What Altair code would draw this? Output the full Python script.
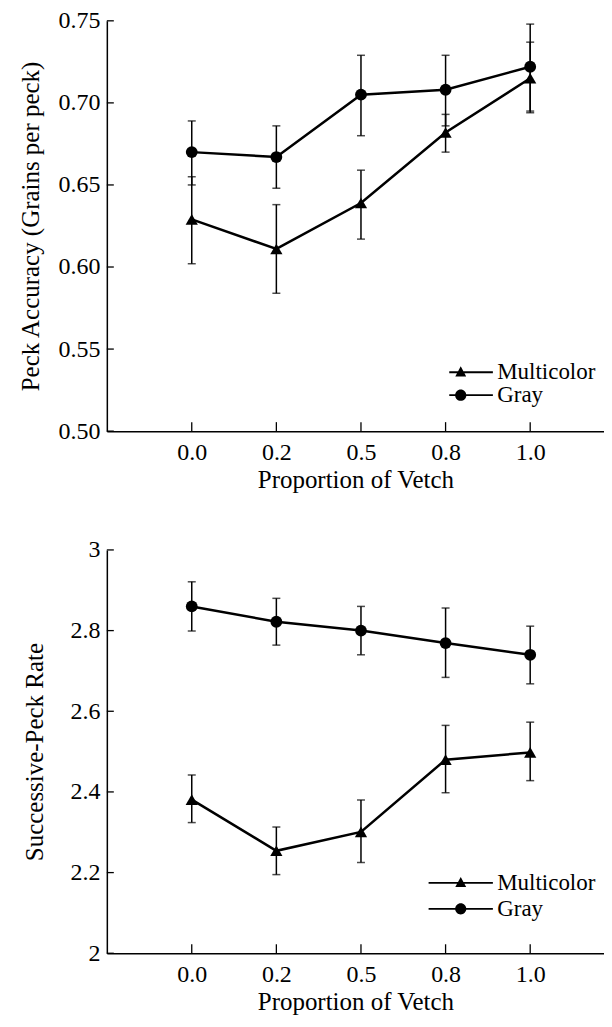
import altair as alt
import pandas as pd

# ---------------- data ----------------
x_labels = ["0.0", "0.2", "0.5", "0.8", "1.0"]
series_names = ["Multicolor", "Gray"]

# Top panel: Peck accuracy (grains per peck)
acc_multi = [0.629, 0.611, 0.639, 0.682, 0.715]
acc_multi_lo = [0.602, 0.584, 0.617, 0.670, 0.694]
acc_multi_hi = [0.655, 0.638, 0.659, 0.693, 0.737]
acc_gray = [0.670, 0.667, 0.705, 0.708, 0.722]
acc_gray_lo = [0.650, 0.648, 0.680, 0.686, 0.695]
acc_gray_hi = [0.689, 0.686, 0.729, 0.729, 0.748]
acc_ticks = [0.50, 0.55, 0.60, 0.65, 0.70, 0.75]

# Bottom panel: successive-peck rate
rate_multi = [2.381, 2.254, 2.301, 2.480, 2.498]
rate_multi_lo = [2.324, 2.195, 2.225, 2.398, 2.428]
rate_multi_hi = [2.442, 2.313, 2.380, 2.565, 2.573]
rate_gray = [2.860, 2.822, 2.800, 2.769, 2.740]
rate_gray_lo = [2.799, 2.764, 2.740, 2.684, 2.668]
rate_gray_hi = [2.921, 2.880, 2.860, 2.856, 2.811]
rate_ticks = [2.0, 2.2, 2.4, 2.6, 2.8, 3.0]

FONT = "Liberation Serif"

# legend symbols: line with marker (custom paths)
LEG_LINE = "M-4.6,-0.13L4.6,-0.13L4.6,0.13L-4.6,0.13Z"
LEG_TRI = LEG_LINE + "M0,-0.85L0.78,0.6L-0.78,0.6Z"
LEG_CIRC = LEG_LINE + "M0.8,0A0.8,0.8,0,1,1,-0.8,0A0.8,0.8,0,1,1,0.8,0Z"


def make_df(m, mlo, mhi, g, glo, ghi):
    rows = []
    for i, xl in enumerate(x_labels):
        rows.append({"x": xl, "series": "Multicolor", "mean": m[i], "lo": mlo[i], "hi": mhi[i]})
        rows.append({"x": xl, "series": "Gray", "mean": g[i], "lo": glo[i], "hi": ghi[i]})
    return pd.DataFrame(rows)


def panel(df, ticks, domain, fmt, ytitle, height, ytitle_pad, leg_opts):
    W = 498
    xs = alt.Scale(type="point", domain=x_labels, padding=0.938, align=0.535)
    ys = alt.Scale(domain=domain, nice=False, zero=False)
    X = alt.X("x:N", scale=xs, sort=x_labels,
              axis=alt.Axis(title="Proportion of Vetch", labelAngle=0, ticks=False,
                            tickSize=0, labelPadding=9, titlePadding=3, grid=False))
    Xn = alt.X("x:N", scale=xs, sort=x_labels)
    Y = alt.Y("mean:Q", scale=ys,
              axis=alt.Axis(title=ytitle, values=ticks, format=fmt, ticks=False,
                            tickSize=0, labelPadding=7, titlePadding=ytitle_pad, grid=False))
    base = alt.Chart(df)
    line = base.mark_line(color="black", strokeWidth=2.5).encode(
        x=X, y=Y, detail="series:N")
    err = base.mark_rule(color="black", strokeWidth=1.5).encode(
        x=Xn, y=alt.Y("lo:Q", scale=ys), y2="hi:Q")
    cap_lo = base.mark_tick(color="black", orient="horizontal", size=8, thickness=1.5).encode(
        x=Xn, y=alt.Y("lo:Q", scale=ys))
    cap_hi = base.mark_tick(color="black", orient="horizontal", size=8, thickness=1.5).encode(
        x=Xn, y=alt.Y("hi:Q", scale=ys))
    pts_m = base.transform_filter(alt.datum.series == "Multicolor").mark_point(
        shape="triangle-up", filled=True, color="black", size=150, opacity=1).encode(
        x=Xn, y=alt.Y("mean:Q", scale=ys))
    pts_g = base.transform_filter(alt.datum.series == "Gray").mark_point(
        shape="circle", filled=True, color="black", size=140, opacity=1).encode(
        x=Xn, y=alt.Y("mean:Q", scale=ys))
    leg = base.mark_point(filled=True, color="black", opacity=0, size=1).encode(
        x=Xn, y=alt.Y("mean:Q", scale=ys),
        shape=alt.Shape("series:N",
                        scale=alt.Scale(domain=series_names, range=[LEG_TRI, LEG_CIRC]),
                        legend=alt.Legend(title=None, orient="none", legendX=343,
                                          symbolSize=196,
                                          symbolOpacity=1, symbolFillColor="black",
                                          symbolStrokeColor="black", symbolStrokeWidth=0,
                                          labelFont=FONT, labelFontSize=23,
                                          labelColor="black", labelOffset=25,
                                          padding=0, **leg_opts)))
    tdf = pd.DataFrame({"v": ticks})
    yt = alt.Chart(tdf).mark_rule(color="black", strokeWidth=1.3).encode(
        y=alt.Y("v:Q", scale=ys), x=alt.value(0), x2=alt.value(7))
    xdf = pd.DataFrame({"x": x_labels})
    xt = alt.Chart(xdf).mark_rule(color="black", strokeWidth=1.3).encode(
        x=Xn, y=alt.value(height), y2=alt.value(height - 9))
    return alt.layer(line, err, cap_lo, cap_hi, pts_m, pts_g, leg, yt, xt).properties(
        width=W, height=height)


H_TOP = 411
H_BOT = 404
top = panel(make_df(acc_multi, acc_multi_lo, acc_multi_hi, acc_gray, acc_gray_lo, acc_gray_hi),
            acc_ticks, [0.5, 0.75], ".2f", "Peck Accuracy (Grains per peck)", H_TOP, 14,
            {"legendY": H_TOP - 69, "clipHeight": 20, "rowPadding": 0})
bottom = panel(make_df(rate_multi, rate_multi_lo, rate_multi_hi, rate_gray, rate_gray_lo, rate_gray_hi),
               rate_ticks, [2.0, 3.0], "~g", "Successive-Peck Rate", H_BOT, 22,
               {"legendY": H_BOT - 82})

chart = alt.vconcat(top, bottom, spacing=46).resolve_scale(
    y="independent", shape="independent").resolve_legend(shape="independent").properties(
    padding={"left": 11, "top": 0, "right": 0, "bottom": 0}, background="white"
).configure_view(stroke=None).configure_axis(
    grid=False, domainColor="black", domainWidth=1.5,
    labelFont=FONT, labelFontSize=24, labelColor="black",
    titleFont=FONT, titleFontSize=25, titleColor="black", titleFontWeight="normal"
)

chart.save("out.html", embed_options={"renderer": "svg", "actions": False})
